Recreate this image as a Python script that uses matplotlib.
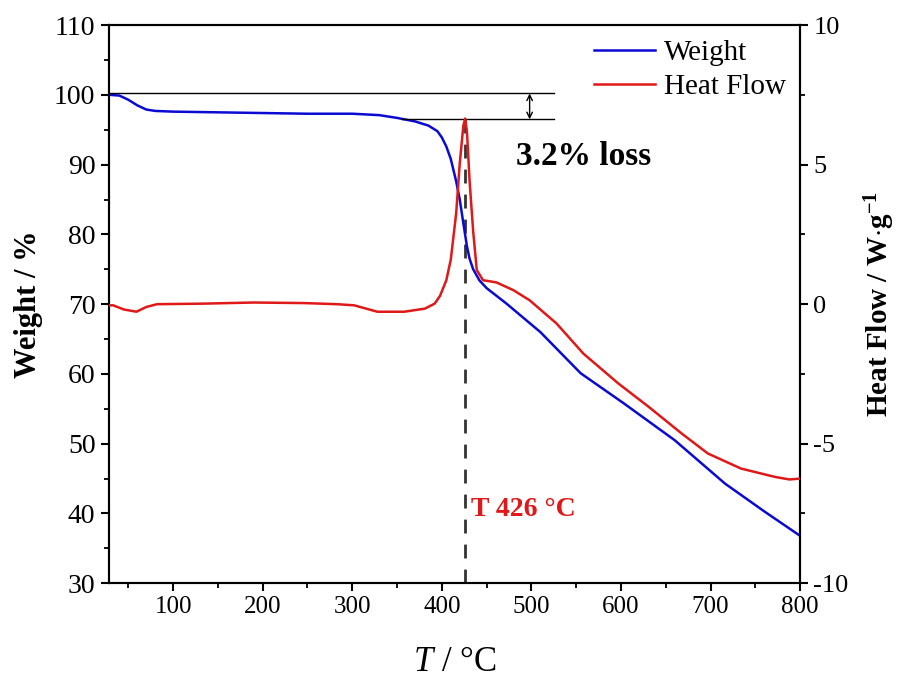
import matplotlib
matplotlib.use("Agg")
import matplotlib.pyplot as plt
from matplotlib.ticker import MultipleLocator

plt.rcParams['font.family'] = ['Liberation Serif', 'DejaVu Serif']
plt.rcParams['mathtext.fontset'] = 'custom'
plt.rcParams['mathtext.rm'] = 'Liberation Serif'
plt.rcParams['mathtext.it'] = 'Liberation Serif:italic'
plt.rcParams['mathtext.bf'] = 'Liberation Serif:bold'
plt.rcParams['axes.unicode_minus'] = False

# ---- data ----
temp_w = [30, 40, 50, 60, 70, 80, 100, 150, 200, 250, 300, 330, 350, 370, 385, 395,
          400, 405, 410, 416, 420, 424, 428, 431, 435, 442, 450, 472, 510, 555, 603,
          660, 716, 760, 800]
weight = [100.0, 99.9, 99.3, 98.5, 97.9, 97.7, 97.6, 97.5, 97.4, 97.3, 97.3, 97.1,
          96.7, 96.2, 95.6, 94.8, 93.9, 92.6, 90.8, 87.6, 85.0, 81.6, 78.3, 76.5,
          75.0, 73.4, 72.3, 70.1, 66.0, 60.1, 55.8, 50.5, 44.3, 40.3, 36.8]

temp_h = [28, 33, 45, 59, 70, 82, 134, 190, 246, 283, 302, 328, 358, 381, 392, 398,
          405, 410, 416, 420, 424, 426, 428, 431, 435, 439, 446, 461, 480, 498, 528,
          558, 597, 631, 668, 697, 734, 772, 788, 800]
heat_flow = [-0.04, -0.04, -0.19, -0.27, -0.1, 0.0, 0.02, 0.06, 0.04, 0.0, -0.04,
             -0.27, -0.27, -0.16, 0.02, 0.3, 0.86, 1.6, 3.26, 5.05, 6.4, 6.65, 6.2,
             4.4, 2.6, 1.22, 0.86, 0.78, 0.5, 0.14, -0.69, -1.77, -2.84, -3.68,
             -4.64, -5.35, -5.89, -6.19, -6.28, -6.25]

peak_T = 426
w_start, w_peak = 100.2, 96.5
loss_text = "3.2% loss"
peak_text = "T 426 °C"

# ---- figure ----
fig = plt.figure(figsize=(8.98, 6.79), dpi=100)
ax = fig.add_axes([0.121, 0.141, 0.770, 0.822])
ax2 = ax.twinx()

blue = '#0a0ad2'
red = '#e01818'
l1, = ax.plot(temp_w, weight, color=blue, lw=1.8, label='Weight', zorder=3)
l2, = ax2.plot(temp_h, heat_flow, color=red, lw=1.8, label='Heat Flow', zorder=3)

ax.set_xlim(28, 800)
ax.set_ylim(30, 110)
ax2.set_ylim(-10, 10)

# reference lines
ax.plot([28, 525], [w_start, w_start], color='black', lw=1.0, zorder=4)
ax.plot([355, 525], [w_peak, w_peak], color='black', lw=1.0, zorder=4)
ax.annotate('', xy=(498, w_peak), xytext=(498, w_start),
            arrowprops=dict(arrowstyle='<->', color='black', lw=1.0,
                            shrinkA=0, shrinkB=0, mutation_scale=10))
ax.plot([peak_T, peak_T], [30, w_peak], color='#333333', lw=2.0,
        dashes=(5, 4), zorder=2)

ax.text(558, 91.1, loss_text, fontsize=24, fontweight='bold', ha='center', va='center')
ax.text(432, 40.6, peak_text, fontsize=20, fontweight='bold', color=red,
        ha='left', va='center')

# ticks
ax.xaxis.set_major_locator(MultipleLocator(100))
ax.xaxis.set_minor_locator(MultipleLocator(50))
ax.yaxis.set_major_locator(MultipleLocator(10))
ax.yaxis.set_minor_locator(MultipleLocator(5))
ax2.yaxis.set_major_locator(MultipleLocator(5))
ax2.yaxis.set_minor_locator(MultipleLocator(2.5))
for a in (ax, ax2):
    a.tick_params(which='major', direction='out', length=6, width=1.5, labelsize=17)
    a.tick_params(which='minor', direction='out', length=3.5, width=1.3)
    for s in a.spines.values():
        s.set_linewidth(1.5)
ax.tick_params(axis='x', which='both', top=False)
ax.tick_params(axis='x', which='major', labelsize=18)
ax.tick_params(axis='y', which='major', labelsize=20)
ax2.tick_params(axis='y', which='major', labelsize=19)

ax.set_xlabel(r'$\it{T}$ / °C', fontsize=25, labelpad=20)
ax.set_ylabel('Weight / %', fontsize=22, fontweight='bold', labelpad=8)
ax2.set_ylabel(r'Heat Flow / W$\cdot$g$^{\mathbf{-1}}$', fontsize=21,
               fontweight='bold', labelpad=10)

ax.legend([l1, l2], ['Weight', 'Heat Flow'], loc='upper right', frameon=False,
          fontsize=21, handlelength=2.1, handletextpad=0.3, labelspacing=0.25,
          borderaxespad=0.1)

fig.savefig('out.png', dpi=100)
